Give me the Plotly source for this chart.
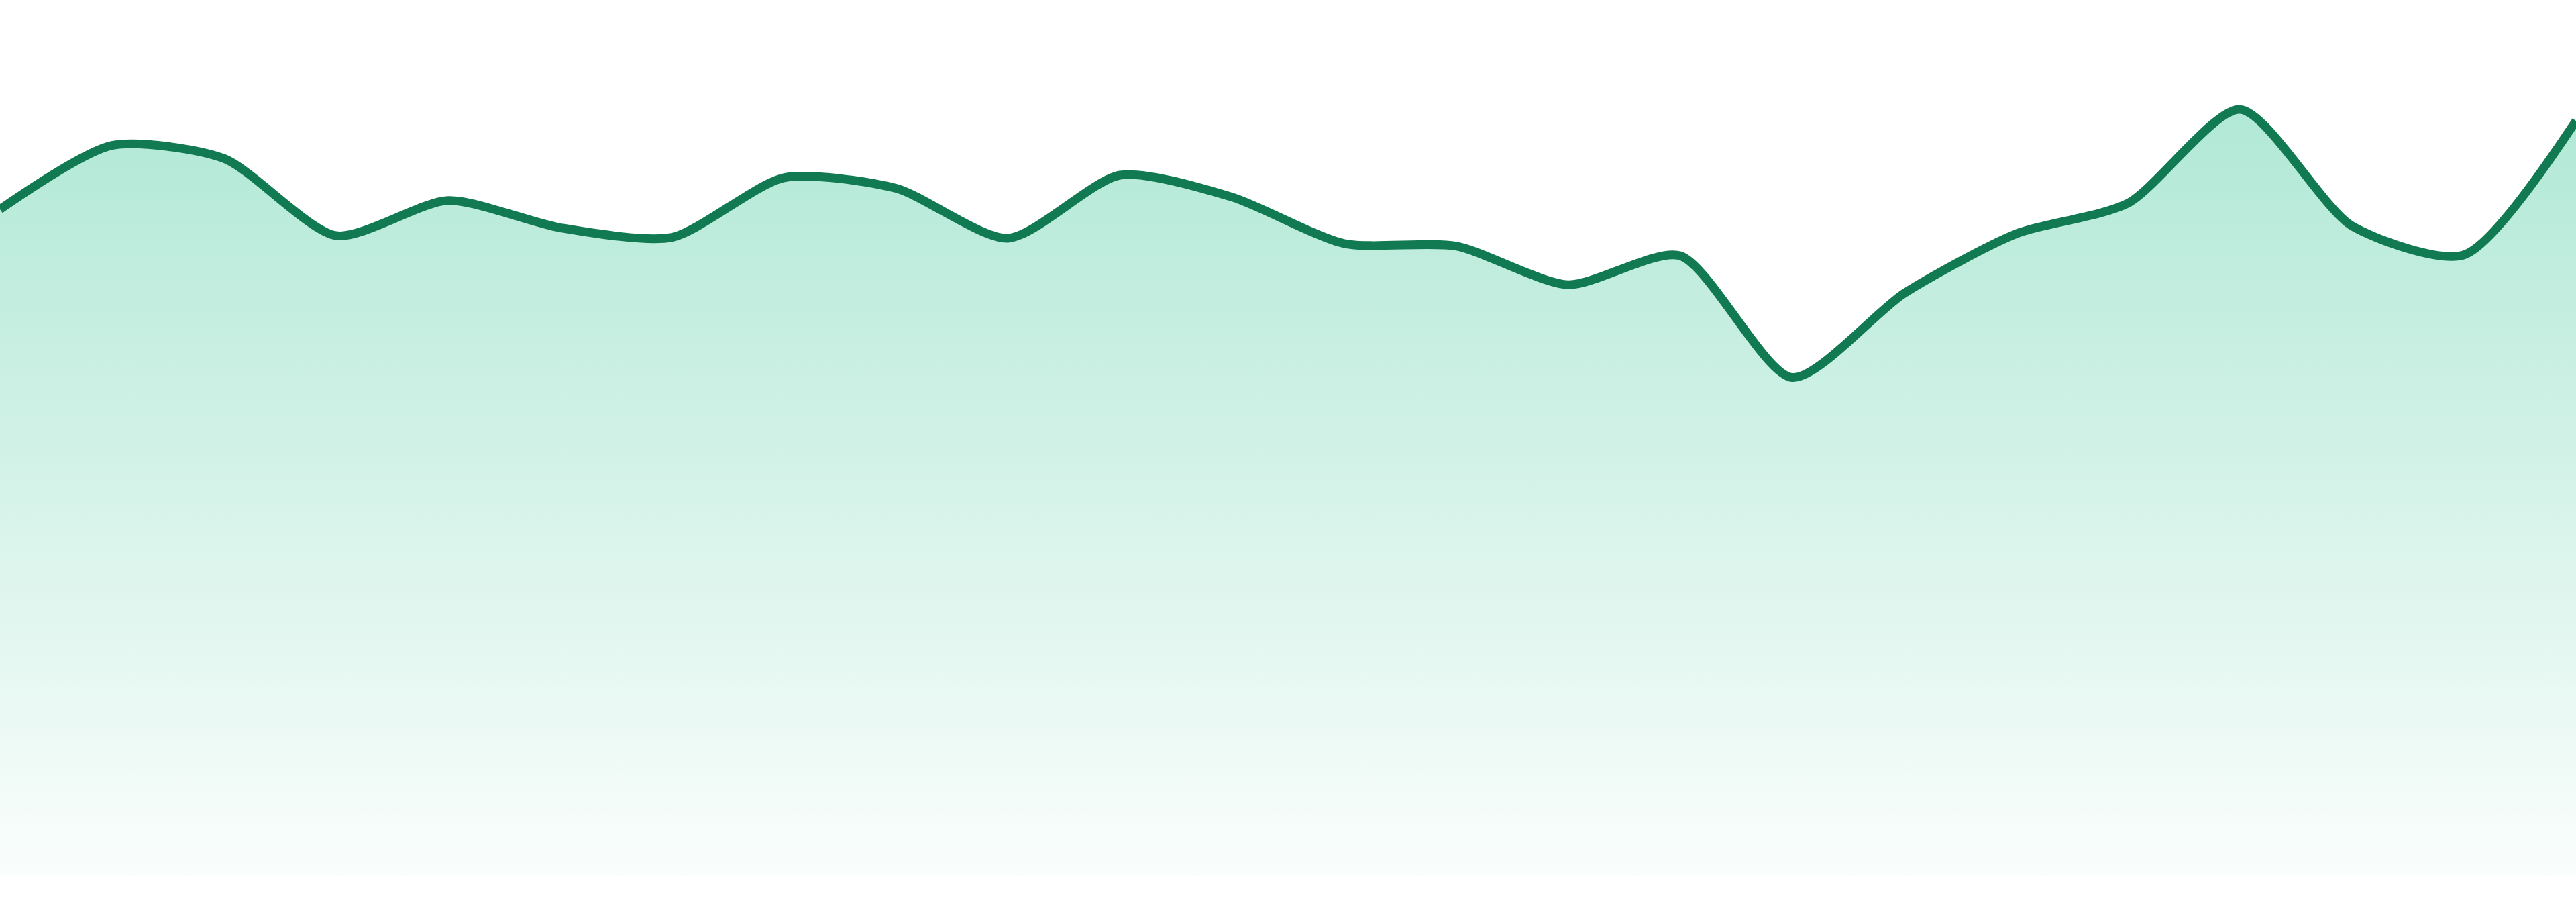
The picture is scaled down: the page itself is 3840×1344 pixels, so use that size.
import plotly.graph_objects as go

# valores (escala 0-100, eje oculto)
periodos = list(range(24))
valores = [76.1, 83.4, 81.9, 73.1, 77.1, 74.0, 72.9, 79.7, 78.5, 72.8, 80.0, 77.5,
           72.2, 71.9, 67.5, 70.8, 56.9, 66.5, 73.3, 76.8, 87.5, 74.2, 70.9, 86.2]

linea = "#117a52"

fig = go.Figure()
fig.add_trace(go.Scatter(
    x=periodos, y=valores,
    mode="lines",
    line=dict(color=linea, width=13, shape="spline", smoothing=0.7),
    fill="tozeroy",
    fillgradient=dict(
        type="vertical",
        start=0, stop=100,
        colorscale=[[0, "rgba(16,185,129,0.02)"], [1, "rgba(16,185,129,0.37)"]],
    ),
    hoverinfo="skip",
))

fig.update_layout(
    width=3840, height=1344,
    margin=dict(l=0, r=0, t=0, b=39),
    paper_bgcolor="white", plot_bgcolor="white",
    showlegend=False,
    xaxis=dict(range=[0, 23], visible=False, showgrid=False, zeroline=False),
    yaxis=dict(range=[0, 100], visible=False, showgrid=False, zeroline=False),
)

# quitar el margen del body para que el gráfico llene la ventana
fig.write_html("out.html", config={"displayModeBar": False},
               post_script="document.body.style.margin='0';")
